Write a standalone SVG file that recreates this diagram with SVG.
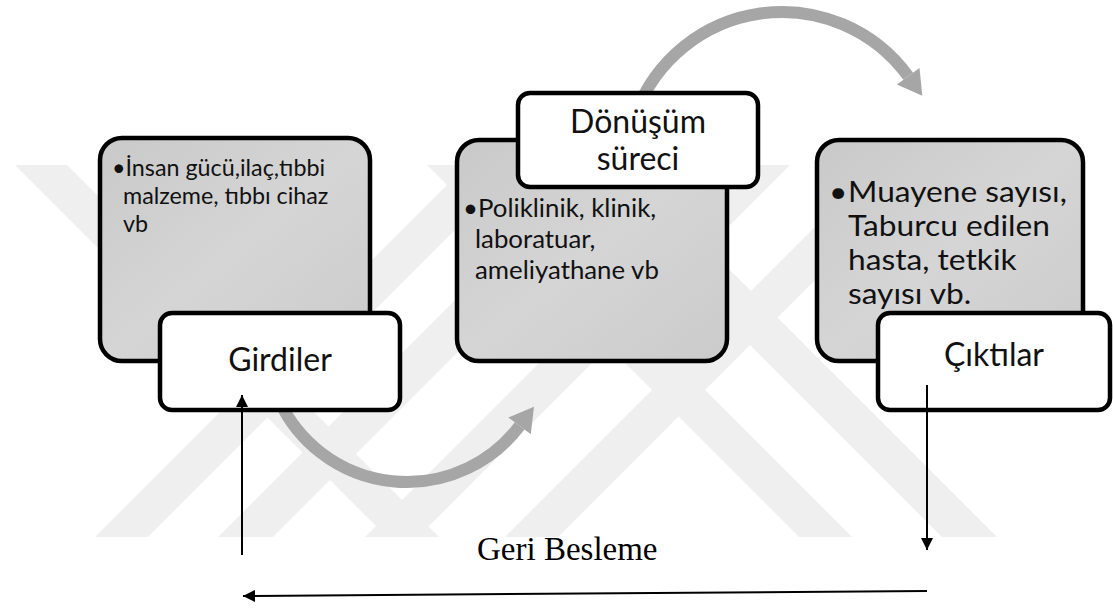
<svg xmlns="http://www.w3.org/2000/svg" width="1113" height="610" viewBox="0 0 1113 610">
  <defs>
    <linearGradient id="boxFill" x1="0" y1="0" x2="1" y2="1">
      <stop offset="0" stop-color="#c9c9c9"/>
      <stop offset="0.5" stop-color="#d5d5d5"/>
      <stop offset="1" stop-color="#cbcbcb"/>
    </linearGradient>
    <marker id="blackHead" viewBox="0 0 10 10" refX="10" refY="5" markerWidth="14" markerHeight="12" markerUnits="userSpaceOnUse" orient="auto">
      <path d="M0,0 L10,5 L0,10 z" fill="#000"/>
    </marker>
    <style>
      .panel { fill: url(#boxFill); stroke: #000; stroke-width: 4.5; }
      .label { fill: #fff; stroke: #000; stroke-width: 4.5; }
      .body { font-family: Lato, "Open Sans", sans-serif; fill: #111; }
      .title { font-family: Lato, "Open Sans", sans-serif; font-size: 32px; fill: #111; text-anchor: middle; }
      .flow { fill: none; stroke: #a6a6a6; stroke-width: 12; }
      .flowHead { fill: #a6a6a6; }
      .wire { fill: none; stroke: #000; stroke-width: 2; marker-end: url(#blackHead); }
    </style>
  </defs>

  <rect width="1113" height="610" fill="#fff"/>

  <!-- faint background emblem: diagonal bands -->
  <path fill="#efefef" d="
    M15,165 L67,165 L439,537 L387,537 Z
    M427,165 L480,165 L852,537 L799,537 Z
    M570,165 L625,165 L997,537 L942,537 Z
    M467,165 L520,165 L148,537 L95,537 Z
    M590,165 L645,165 L273,537 L218,537 Z
    M737,165 L790,165 L418,537 L365,537 Z
    M877,165 L930,165 L558,537 L505,537 Z"/>

  <!-- curved grey flow arrows (drawn under the boxes) -->
  <g id="flow-arrows">
    <path class="flow" d="M279.2,400.6 A141,141 0 0 0 519.6,425.9"/>
    <polygon class="flowHead" points="534,406.7 530.8,434.3 508.4,417.5"/>
    <path class="flow" d="M635.4,114.6 A156,156 0 0 1 908.2,76.3"/>
    <polygon class="flowHead" points="922.3,95.7 919.5,68.1 896.9,84.5"/>
  </g>

  <g id="girdiler">
    <rect class="panel" x="100" y="138" width="270" height="223" rx="22"/>
    <text class="body" font-size="23.3"><tspan x="112" y="176">•İnsan gücü,ilaç,tıbbi</tspan><tspan x="123" y="204">malzeme, tıbbı cihaz</tspan><tspan x="123" y="232">vb</tspan></text>
    <rect class="label" x="160" y="313" width="240" height="97" rx="12"/>
    <text class="title" x="280" y="371">Girdiler</text>
  </g>

  <g id="donusum">
    <rect class="panel" x="457" y="140" width="270" height="221" rx="22"/>
    <text class="body" font-size="25.8"><tspan x="463" y="217">•Poliklinik, klinik,</tspan><tspan x="475" y="248">laboratuar,</tspan><tspan x="475" y="279">ameliyathane vb</tspan></text>
    <rect class="label" x="518" y="93" width="240" height="94" rx="12"/>
    <text class="title"><tspan x="638" y="133">Dönüşüm</tspan><tspan x="638" y="170">süreci</tspan></text>
  </g>

  <g id="ciktilar">
    <rect class="panel" x="817" y="140" width="266" height="221" rx="22"/>
    <text class="body" font-size="28.3" transform="translate(848,0) scale(1.12,1)"><tspan x="-17" y="202">•</tspan><tspan x="0" y="202">Muayene sayısı,</tspan><tspan x="0" y="236">Taburcu edilen</tspan><tspan x="0" y="270">hasta, tetkik</tspan><tspan x="0" y="304">sayısı vb.</tspan></text>
    <rect class="label" x="878" y="313" width="232" height="97" rx="12"/>
    <text class="title" x="994" y="366">Çıktılar</text>
  </g>

  <!-- feedback loop -->
  <g id="feedback">
    <path class="wire" d="M242,555 L242,395"/>
    <path class="wire" d="M927,385 L927,550"/>
    <path class="wire" d="M927,591 L243,596"/>
    <text x="477" y="560" font-family="Liberation Serif, serif" font-size="33" fill="#000">Geri Besleme</text>
  </g>
</svg>
